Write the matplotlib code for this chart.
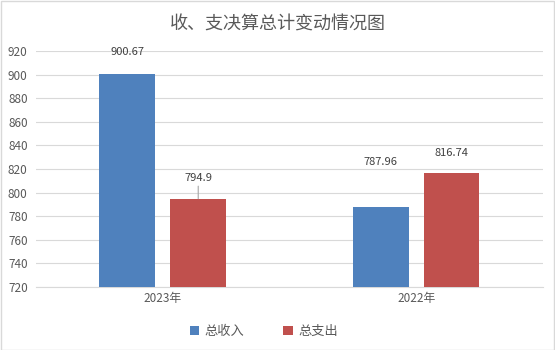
import numpy as np
import matplotlib.pyplot as plt

plt.rcParams['font.family'] = ['Microsoft YaHei', 'Noto Sans CJK SC', 'DejaVu Sans']

years = ['2023年', '2022年']
income = [900.67, 787.96]
expense = [794.9, 816.74]
label_income = ['900.67', '787.96']
label_expense = ['794.9', '816.74']
yticks = [720, 740, 760, 780, 800, 820, 840, 860, 880, 900, 920]

txt = '#595959'
fig = plt.figure(figsize=(5.55, 3.5), dpi=100)
fig.patches.append(plt.Rectangle((0.001, 0.001), 0.997, 0.996, transform=fig.transFigure,
                                 fill=False, edgecolor='#d9d9d9', linewidth=1))
ax = fig.add_axes([0.065, 0.18, 0.913, 0.674])

x = np.arange(len(years))
w = 0.22
gap = 0.03
b1 = ax.bar(x - w / 2 - gap, income, w, color='#4F81BD', label='总收入', zorder=3)
b2 = ax.bar(x + w / 2 + gap, expense, w, color='#C0504D', label='总支出', zorder=3)

# label offsets in points (as placed in the source chart)
off1 = [12, 29]
off2 = [11, 11]
for bar, lab, o in zip(b1, label_income, off1):
    ax.annotate(lab, (bar.get_x() + bar.get_width() / 2, bar.get_height()),
                xytext=(0, o), textcoords='offset points', ha='center', va='bottom',
                fontsize=8, color='#404040')
for i, (bar, lab, o) in enumerate(zip(b2, label_expense, off2)):
    ax.annotate(lab, (bar.get_x() + bar.get_width() / 2, bar.get_height()),
                xytext=(0, o), textcoords='offset points', ha='center', va='bottom',
                fontsize=8, color='#404040',
                arrowprops=dict(arrowstyle='-', color='#a6a6a6', lw=0.8,
                                shrinkA=0, shrinkB=0) if i == 0 else None)

ax.set_ylim(720, 920)
ax.set_yticks(yticks)
ax.set_xlim(-0.5, 1.5)
ax.set_xticks(x)
ax.set_xticklabels(years)
ax.grid(axis='y', color='#d9d9d9', linewidth=0.8, zorder=0)
for s in ['top', 'right', 'left']:
    ax.spines[s].set_visible(False)
ax.spines['bottom'].set_color('#d9d9d9')
ax.tick_params(axis='both', length=0, labelsize=8.5, colors=txt)
ax.tick_params(axis='y', pad=6)

fig.suptitle('收、支决算总计变动情况图', y=0.955, fontsize=13, color=txt)
fig.legend(loc='lower center', ncol=2, bbox_to_anchor=(0.475, 0.0), frameon=False,
           fontsize=9.5, labelcolor=txt, handlelength=0.7, handleheight=0.7,
           columnspacing=3, handletextpad=0.4)

fig.savefig('out.png', dpi=100)
